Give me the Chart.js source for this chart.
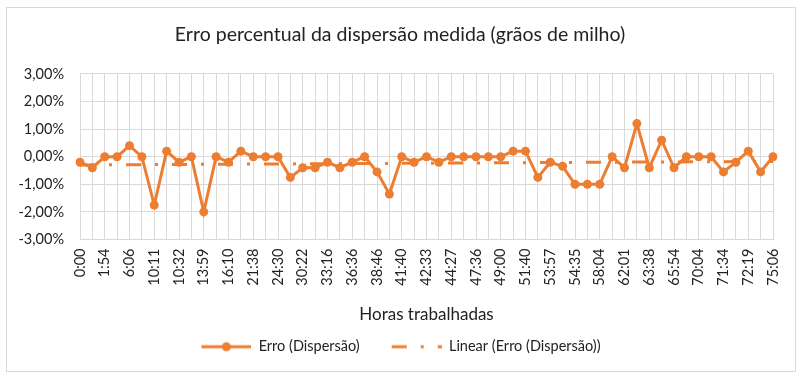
<!DOCTYPE html>
<html>
<head>
<meta charset="utf-8">
<script src="https://cdn.jsdelivr.net/npm/chart.js@4"></script>
<style>
  html, body { margin: 0; padding: 0; background: #fff; }
  #wrap { width: 800px; height: 378px; position: relative; }
</style>
</head>
<body>
<div id="wrap"><canvas id="chart"></canvas></div>
<script>
// Labels shown on the axis (every other category)
var tickLabels = ['0:00', '1:54', '6:06', '10:11', '10:32', '13:59', '16:10', '21:38', '24:30',
  '30:22', '33:16', '36:36', '38:46', '41:40', '42:33', '44:27', '47:36', '49:00', '51:40',
  '53:57', '54:35', '58:04', '62:01', '63:38', '65:54', '70:04', '71:34', '72:19', '75:06'];

// Erro (Dispersão), in percent
var erroValues = [-0.2, -0.4, 0, 0, 0.4, 0, -1.75, 0.2, -0.2, 0,
  -2.0, 0, -0.2, 0.2, 0, 0, 0, -0.75, -0.4, -0.4,
  -0.2, -0.4, -0.2, 0, -0.55, -1.35, 0, -0.2, 0, -0.2,
  0, 0, 0, 0, 0, 0.2, 0.2, -0.75, -0.2, -0.35,
  -1.0, -1.0, -1.0, 0, -0.4, 1.2, -0.4, 0.6, -0.4, 0,
  0, 0, -0.55, -0.2, 0.2, -0.55, 0];

// Linear trend, ends
var trendStart = -0.3;
var trendEnd = -0.17;

var orange = '#ED7D31';
var gridColor = '#d9d9d9';
var textColor = '#222';
var fontFamily = 'Lato, "Open Sans", sans-serif';

// ── Categories: labelled ones at even positions ────────────────────
var categories = [];
tickLabels.forEach(function(lbl, i) {
  categories.push(lbl);
  if (i < tickLabels.length - 1) categories.push('');
});

var trendData = categories.map(function() { return null; });
trendData[0] = trendStart;
trendData[trendData.length - 1] = trendEnd;

// ── Legend samples (blank left margin = gap between items) ─────────
var SAMPLE_W = 74;
var SAMPLE_GAP = 24;
function lineSample() {
  var c = document.createElement('canvas');
  c.width = SAMPLE_W; c.height = 12;
  var g = c.getContext('2d');
  g.strokeStyle = orange; g.lineWidth = 3;
  g.beginPath(); g.moveTo(SAMPLE_GAP, 6); g.lineTo(SAMPLE_W, 6); g.stroke();
  g.fillStyle = orange;
  g.beginPath(); g.arc((SAMPLE_GAP + SAMPLE_W) / 2, 6, 4.5, 0, Math.PI * 2); g.fill();
  return c;
}
function trendSample() {
  var c = document.createElement('canvas');
  c.width = SAMPLE_W; c.height = 12;
  var g = c.getContext('2d');
  g.strokeStyle = orange; g.lineWidth = 3;
  g.setLineDash([15, 14, 3, 14]);
  g.beginPath(); g.moveTo(SAMPLE_GAP, 6); g.lineTo(SAMPLE_W, 6); g.stroke();
  return c;
}

var frame = {
  id: 'frame',
  beforeDraw: function(chart) {
    var ctx = chart.ctx;
    ctx.save();
    ctx.fillStyle = '#fff';
    ctx.fillRect(0, 0, chart.width, chart.height);
    ctx.strokeStyle = gridColor;
    ctx.lineWidth = 1;
    ctx.strokeRect(6.5, 7.5, 789, 364);
    ctx.restore();
  },
  // compensate the blank margin of the legend samples
  afterLayout: function(chart) {
    if (chart.legend) {
      chart.legend.left -= 11;
      chart.legend.right -= 11;
    }
  }
};

new Chart(document.getElementById('chart'), {
  type: 'line',
  data: {
    labels: categories,
    datasets: [
      {
        label: 'Linear (Erro (Dispersão))',
        data: trendData,
        spanGaps: true,
        borderColor: orange,
        borderWidth: 3,
        borderDash: [15, 14, 3, 14],
        pointRadius: 0,
        fill: false,
        order: 0
      },
      {
        label: 'Erro (Dispersão)',
        data: erroValues,
        borderColor: orange,
        backgroundColor: orange,
        borderWidth: 3,
        pointRadius: 4.5,
        pointBackgroundColor: orange,
        pointBorderWidth: 0,
        tension: 0,
        fill: false,
        order: 1
      }
    ]
  },
  options: {
    responsive: true,
    maintainAspectRatio: false,
    animation: false,
    layout: { padding: { left: 0, right: 0, top: 0, bottom: 14 } },
    plugins: {
      title: {
        display: true,
        text: 'Erro percentual da dispersão medida (grãos de milho)',
        color: textColor,
        font: { family: fontFamily, size: 19.5, weight: 'normal' },
        padding: { top: 23, bottom: 27.5 }
      },
      legend: {
        position: 'bottom',
        labels: {
          color: textColor,
          font: { family: fontFamily, size: 14.5 },
          usePointStyle: true,
          pointStyleWidth: SAMPLE_W,
          padding: 8,
          generateLabels: function() {
            return [
              { text: 'Erro (Dispersão)', pointStyle: lineSample(), fontColor: textColor, hidden: false, datasetIndex: 1, lineWidth: 0 },
              { text: 'Linear (Erro (Dispersão))', pointStyle: trendSample(), fontColor: textColor, hidden: false, datasetIndex: 0, lineWidth: 0 }
            ];
          }
        }
      },
      tooltip: { enabled: false }
    },
    scales: {
      x: {
        offset: false,
        grid: { color: gridColor, drawTicks: false },
        border: { color: gridColor },
        ticks: {
          autoSkip: false,
          maxRotation: 90,
          minRotation: 90,
          padding: 9,
          color: textColor,
          font: { family: fontFamily, size: 14.5 }
        },
        title: {
          display: true,
          text: 'Horas trabalhadas',
          color: textColor,
          font: { family: fontFamily, size: 17 },
          padding: { top: 4, bottom: 7 }
        },
        afterFit: function(scale) { scale.height = 92; }
      },
      y: {
        min: -3,
        max: 3,
        grid: { color: gridColor, drawTicks: false },
        border: { display: false },
        ticks: {
          stepSize: 1,
          padding: 16,
          color: textColor,
          font: { family: fontFamily, size: 14.5 },
          callback: function(v) { return v.toFixed(2).replace('.', ',') + '%'; }
        },
        afterFit: function(scale) { scale.width = 80; }
      },
      // empty right axis keeps the plot 27px from the edge
      yRight: {
        position: 'right',
        min: -3,
        max: 3,
        grid: { display: false },
        border: { display: false },
        ticks: { display: false },
        afterFit: function(scale) { scale.width = 27; }
      }
    }
  },
  plugins: [frame]
});
</script>
</body>
</html>
